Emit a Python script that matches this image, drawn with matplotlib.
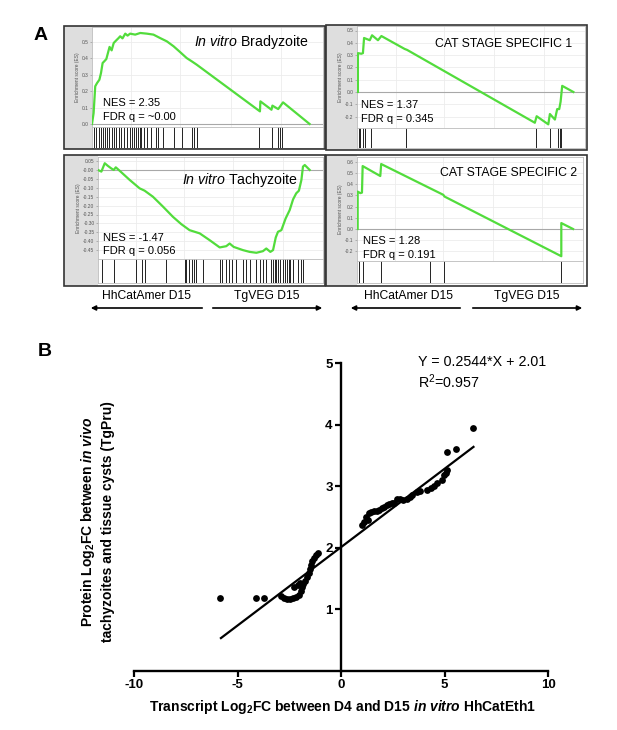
import numpy as np
import matplotlib
matplotlib.use('Agg')
import matplotlib.pyplot as plt
from matplotlib.patches import Rectangle, FancyArrowPatch

plt.rcParams['font.family'] = 'Liberation Sans'
plt.rcParams['axes.unicode_minus'] = False
plt.rcParams['mathtext.fontset'] = 'custom'
plt.rcParams['mathtext.rm'] = 'Liberation Sans'
plt.rcParams['mathtext.it'] = 'Liberation Sans:italic'
plt.rcParams['mathtext.bf'] = 'Liberation Sans:bold'
plt.rcParams['mathtext.bfit'] = 'Liberation Sans:italic:bold'

W, H = 617, 730

############################## Data ############################################
# running enrichment score curves (rank as fraction of the list)
brady_rank = [0, 0.007, 0.014, 0.022, 0.032, 0.039, 0.046, 0.053, 0.062, 0.069,
              0.076, 0.085, 0.094, 0.105, 0.115, 0.122, 0.132, 0.144, 0.154,
              0.165, 0.187, 0.209, 0.237, 0.266, 0.295, 0.324, 0.353, 0.381,
              0.410, 0.432, 0.453, 0.727, 0.729, 0.777, 0.781, 0.806, 0.827, 0.942]
brady_es = [0, 0.067, 0.230, 0.250, 0.270, 0.311, 0.372, 0.382, 0.396, 0.433,
            0.470, 0.449, 0.494, 0.510, 0.524, 0.535, 0.522, 0.551, 0.539,
            0.551, 0.545, 0.555, 0.551, 0.545, 0.524, 0.504, 0.474, 0.439,
            0.402, 0.382, 0.362, 0.077, 0.138, 0.087, 0.112, 0.091, 0.132, 0.0]
brady_hits = [0.007, 0.017, 0.029, 0.039, 0.047, 0.056, 0.065, 0.073, 0.085,
              0.094, 0.105, 0.117, 0.125, 0.140, 0.151, 0.163, 0.173, 0.183,
              0.191, 0.197, 0.206, 0.214, 0.226, 0.240, 0.255, 0.276, 0.285,
              0.306, 0.355, 0.390, 0.432, 0.442, 0.453, 0.724, 0.780, 0.806,
              0.816, 0.824]

cat1_rank = [0.004, 0.004, 0.019, 0.026, 0.031, 0.056, 0.066, 0.092, 0.107,
             0.209, 0.220, 0.780, 0.788, 0.839, 0.846, 0.868, 0.878, 0.887,
             0.893, 0.900, 0.949]
cat1_es = [0, 0.316, 0.311, 0.316, 0.439, 0.421, 0.461, 0.421, 0.455, 0.350,
           0.342, -0.250, -0.197, -0.263, -0.179, -0.224, -0.139, -0.139,
           -0.079, 0.050, 0.0]
cat1_hits = [0.007, 0.015, 0.026, 0.035, 0.060, 0.217, 0.785, 0.846, 0.880,
             0.889, 0.896]

tachy_rank = [0, 0.015, 0.030, 0.044, 0.059, 0.070, 0.079, 0.096, 0.141, 0.185,
              0.207, 0.244, 0.289, 0.333, 0.370, 0.407, 0.452, 0.496, 0.541,
              0.570, 0.585, 0.603, 0.644, 0.674, 0.704, 0.733, 0.748, 0.766,
              0.778, 0.790, 0.800, 0.815, 0.834, 0.852, 0.867, 0.881, 0.893,
              0.904, 0.911, 0.919, 0.941]
tachy_es = [0, -0.009, 0.038, 0.023, 0.009, 0.0, 0.015, -0.004, -0.056, -0.103,
            -0.116, -0.150, -0.206, -0.263, -0.304, -0.338, -0.356, -0.394,
            -0.435, -0.428, -0.413, -0.432, -0.450, -0.460, -0.465, -0.456,
            -0.441, -0.460, -0.450, -0.379, -0.347, -0.338, -0.272, -0.225,
            -0.165, -0.131, -0.116, -0.056, 0.019, 0.028, 0.0]
tachy_hits = [0.019, 0.070, 0.170, 0.194, 0.209, 0.304, 0.385, 0.393, 0.404,
              0.416, 0.428, 0.437, 0.467, 0.541, 0.553, 0.567, 0.582, 0.594,
              0.615, 0.644, 0.659, 0.674, 0.704, 0.719, 0.733, 0.748, 0.770,
              0.778, 0.785, 0.793, 0.800, 0.807, 0.822, 0.831, 0.840, 0.847,
              0.855, 0.867, 0.889, 0.904, 0.911]

cat2_rank = [0.003, 0.003, 0.015, 0.022, 0.025, 0.103, 0.107, 0.382, 0.387,
             0.904, 0.904, 0.956]
cat2_es = [0, 0.334, 0.320, 0.325, 0.562, 0.473, 0.580, 0.305, 0.290,
           -0.243, 0.053, 0.0]
cat2_hits = [0.007, 0.025, 0.107, 0.324, 0.387, 0.904]

# panel B scatter
transcript_fc = [-5.85, -4.12, -3.72, -2.91, -2.75, -2.60, -2.45, -2.30, -2.15,
                 -2.02, -1.93, -1.88, -1.82, -1.72, -1.62, -1.55, -1.48, -1.43,
                 -1.38, -1.30, -1.20, -1.10, -2.27, -2.10, -1.97,
                 1.03, 1.10, 1.19, 1.30, 1.35, 1.47, 1.59, 1.72, 1.84, 1.96,
                 2.08, 2.20, 2.32, 2.44, 2.56, 2.72, 2.85, 3.00, 3.20, 3.32,
                 3.44, 3.69, 3.80, 4.17, 4.33, 4.50, 4.65, 4.90, 4.98, 5.08,
                 5.14, 5.14, 5.54, 6.39]
protein_fc = [1.18, 1.18, 1.19, 1.21, 1.18, 1.17, 1.17, 1.18, 1.20,
              1.24, 1.30, 1.37, 1.42, 1.46, 1.52, 1.59, 1.65, 1.72,
              1.78, 1.83, 1.88, 1.91, 1.37, 1.40, 1.43,
              2.37, 2.42, 2.50, 2.45, 2.56, 2.58, 2.59, 2.60, 2.62, 2.65,
              2.67, 2.69, 2.71, 2.72, 2.73, 2.79, 2.79, 2.78, 2.80, 2.83,
              2.86, 2.91, 2.93, 2.94, 2.97, 3.00, 3.05, 3.10, 3.18, 3.22,
              3.26, 3.56, 3.61, 3.94]
slope, intercept = 0.2544, 2.01
fit_range = [-5.8, 6.4]

############################## Helpers #########################################
def fig_rect(x0, x1, y0, y1):
    return [x0 / W, 1 - y1 / H, (x1 - x0) / W, (y1 - y0) / H]

def ftext(px, py, s, **kw):
    fig.text(px / W, 1 - py / H, s, **kw)

def gsea_panel(box, strip_x, right_x, es_top, es_bot, bar_bot, zero_px, unit_px,
               rank, es, hits, yticks, fmt):
    x0, x1, y0, y1 = box
    fig.add_artist(Rectangle((x0 / W, 1 - y1 / H), (strip_x - x0) / W,
                             (y1 - y0) / H, transform=fig.transFigure,
                             facecolor='#dedede', edgecolor='none', zorder=-1))
    ax = fig.add_axes(fig_rect(strip_x, right_x, es_top, es_bot))
    ax.plot(rank, es, color='#52dc3c', lw=1.6, zorder=3)
    ax.axhline(0, color='#a8a8a8', lw=0.8, zorder=2)
    ax.set_xlim(0, 1)
    ax.set_ylim((zero_px - es_bot) / unit_px, (zero_px - es_top) / unit_px)
    ax.set_xticks([0.17, 0.38, 0.6, 0.82])
    ax.set_xticklabels([])
    ax.set_yticks(yticks)
    ax.set_yticklabels([fmt % v for v in yticks])
    ax.tick_params(axis='x', length=0)
    ax.tick_params(axis='y', labelsize=3.5, labelcolor='#555555', length=1.5,
                   width=0.4, pad=1, color='#888888')
    ax.grid(color='#ececec', lw=0.6)
    ax.set_ylabel('Enrichment score (ES)', fontsize=3.5, color='#555555',
                  labelpad=1.5)
    for s in ax.spines.values():
        s.set_color('#bbbbbb')
        s.set_linewidth(0.6)
    bx = fig.add_axes(fig_rect(strip_x, right_x, es_bot, bar_bot))
    bx.vlines(hits, 0, 1, color='#222222', lw=0.7)
    bx.set_xlim(0, 1)
    bx.set_ylim(0, 1)
    bx.set_xticks([])
    bx.set_yticks([])
    for s in bx.spines.values():
        s.set_color('#bbbbbb')
        s.set_linewidth(0.6)
    fig.add_artist(Rectangle((x0 / W, 1 - y1 / H), (x1 - x0) / W, (y1 - y0) / H,
                             transform=fig.transFigure, fill=False,
                             edgecolor='#333333', lw=1.2, zorder=10))

def arrow(xa, xb, py):
    fig.add_artist(FancyArrowPatch((xa / W, 1 - py / H), (xb / W, 1 - py / H),
                                   transform=fig.transFigure, arrowstyle='-|>',
                                   mutation_scale=7, lw=1.2, color='black'))

############################## Figure ##########################################
fig = plt.figure(figsize=(6.17, 7.30), dpi=100)

gsea_panel((64, 325, 26, 149), 92, 323, 27, 127, 148, 124, 164,
           brady_rank, brady_es, brady_hits, [0, 0.1, 0.2, 0.3, 0.4, 0.5], '%.1f')
gsea_panel((326, 587, 25, 150), 357, 585, 26, 128, 148, 92, 123,
           cat1_rank, cat1_es, cat1_hits,
           [-0.2, -0.1, 0, 0.1, 0.2, 0.3, 0.4, 0.5], '%.1f')
gsea_panel((64, 325, 155, 286), 98, 323, 157, 259, 283, 170, 178,
           tachy_rank, tachy_es, tachy_hits,
           list(np.round(np.arange(-0.45, 0.06, 0.05), 2)), '%.2f')
gsea_panel((326, 587, 155, 286), 357, 583, 157, 261, 283, 229, 112,
           cat2_rank, cat2_es, cat2_hits,
           [-0.2, -0.1, 0, 0.1, 0.2, 0.3, 0.4, 0.5, 0.6], '%.1f')

# titles and statistics
ftext(308, 42, r'$\mathit{In\ vitro}$ Bradyzoite', fontsize=10.2, ha='right', va='center')
ftext(572, 44, 'CAT STAGE SPECIFIC 1', fontsize=8.8, ha='right', va='center')
ftext(298, 180, r'$\mathit{In\ vitro}$ Tachyzoite', fontsize=10.2, ha='right', va='center')
ftext(577, 173, 'CAT STAGE SPECIFIC 2', fontsize=8.8, ha='right', va='center')
for px, py, nes, fdr in [(103, 103, '2.35', '~0.00'), (361, 105, '1.37', '0.345'),
                         (103, 238, '-1.47', '0.056'), (363, 241, '1.28', '0.191')]:
    ftext(px, py, 'NES = ' + nes, fontsize=8, va='center')
    ftext(px, py + 13.5, 'FDR q = ' + fdr, fontsize=8, va='center')

# phenotype labels with arrows
for lc, rc, a0, a1, a2, a3 in [(147, 267, 205, 88, 210, 325),
                               (408, 527, 463, 348, 470, 585)]:
    ftext(lc, 296, 'HhCatAmer D15', fontsize=8.7, ha='center', va='center')
    ftext(rc, 296, 'TgVEG D15', fontsize=8.7, ha='center', va='center')
    arrow(a0, a1, 308)
    arrow(a2, a3, 308)

ftext(41, 35, 'A', fontsize=14, fontweight='bold', ha='center', va='center')
ftext(45, 352, 'B', fontsize=14, fontweight='bold', ha='center', va='center')

# panel B
axb = fig.add_axes(fig_rect(134, 548, 363, 671))
axb.scatter(transcript_fc, protein_fc, s=24, color='black', zorder=3,
            clip_on=False, linewidths=0)
xs = np.array(fit_range)
axb.plot(xs, slope * xs + intercept, color='black', lw=1.6, zorder=2)
axb.set_xlim(-10, 10)
axb.set_ylim(0, 5)
axb.spines['left'].set_position(('data', 0))
axb.spines['top'].set_visible(False)
axb.spines['right'].set_visible(False)
for s in ['left', 'bottom']:
    axb.spines[s].set_linewidth(1.7)
axb.set_xticks([-10, -5, 0, 5, 10])
axb.set_yticks([1, 2, 3, 4, 5])
axb.tick_params(direction='out', length=4, width=1.6, labelsize=9.5, pad=2)
for lab in axb.get_xticklabels() + axb.get_yticklabels():
    lab.set_fontweight('bold')

ftext(418, 362, 'Y = 0.2544*X + 2.01', fontsize=10.3, va='center')
ftext(418, 382, 'R$^2$=0.957', fontsize=10.3, va='center')
ftext(97, 522, 'Protein Log$_\\mathbf{2}$FC between $\\mathbfit{in\\ vivo}$\n'
      'tachyzoites and tissue cysts (TgPru)', fontsize=10, fontweight='bold',
      rotation=90, ha='center', va='center', multialignment='center',
      linespacing=1.3)
ftext(342, 707, 'Transcript Log$_\\mathbf{2}$FC between D4 and D15 '
      '$\\mathbfit{in\\ vitro}$ HhCatEth1', fontsize=10, fontweight='bold',
      ha='center', va='center')

plt.savefig('out.png', dpi=100)
